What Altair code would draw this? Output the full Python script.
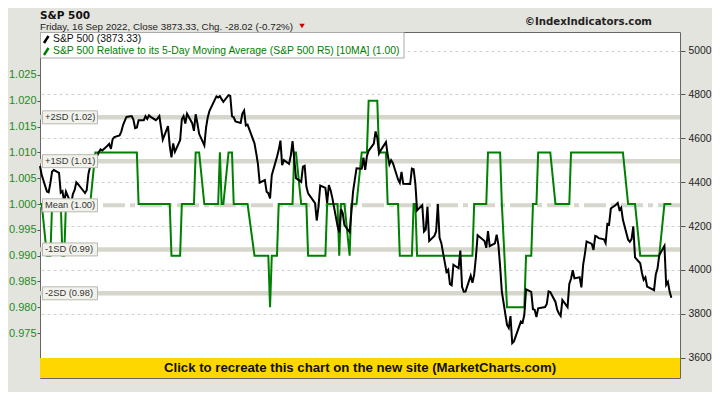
import altair as alt
import pandas as pd

# ---------------- data ----------------
DAYS = {
    "2021-09": [16, 17, 20, 21, 22, 23, 24, 27, 28, 29, 30],
    "2021-10": [1, 4, 5, 6, 7, 8, 11, 12, 13, 14, 15, 18, 19, 20, 21, 22, 25, 26, 27, 28, 29],
    "2021-11": [1, 2, 3, 4, 5, 8, 9, 10, 11, 12, 15, 16, 17, 18, 19, 22, 23, 24, 26, 29, 30],
    "2021-12": [1, 2, 3, 6, 7, 8, 9, 10, 13, 14, 15, 16, 17, 20, 21, 22, 23, 27, 28, 29, 30, 31],
    "2022-01": [3, 4, 5, 6, 7, 10, 11, 12, 13, 14, 18, 19, 20, 21, 24, 25, 26, 27, 28, 31],
    "2022-02": [1, 2, 3, 4, 7, 8, 9, 10, 11, 14, 15, 16, 17, 18, 22, 23, 24, 25, 28],
    "2022-03": [1, 2, 3, 4, 7, 8, 9, 10, 11, 14, 15, 16, 17, 18, 21, 22, 23, 24, 25, 28, 29, 30, 31],
    "2022-04": [1, 4, 5, 6, 7, 8, 11, 12, 13, 14, 18, 19, 20, 21, 22, 25, 26, 27, 28, 29],
    "2022-05": [2, 3, 4, 5, 6, 9, 10, 11, 12, 13, 16, 17, 18, 19, 20, 23, 24, 25, 26, 27, 31],
    "2022-06": [1, 2, 3, 6, 7, 8, 9, 10, 13, 14, 15, 16, 17, 21, 22, 23, 24, 27, 28, 29, 30],
    "2022-07": [1, 5, 6, 7, 8, 11, 12, 13, 14, 15, 18, 19, 20, 21, 22, 25, 26, 27, 28, 29],
    "2022-08": [1, 2, 3, 4, 5, 8, 9, 10, 11, 12, 15, 16, 17, 18, 19, 22, 23, 24, 25, 26, 29, 30, 31],
    "2022-09": [1, 2, 6, 7, 8, 9, 12, 13, 14, 15, 16],
}

CLOSE = {
    "2021-09": [4473.75, 4432.99, 4357.73, 4354.19, 4395.64, 4448.98, 4455.48, 4443.11, 4352.63, 4359.46, 4307.54],
    "2021-10": [4357.04, 4300.46, 4345.72, 4363.55, 4399.76, 4391.34, 4361.19, 4350.65, 4363.80, 4438.26, 4471.37,
                4486.46, 4519.63, 4536.19, 4549.78, 4544.90, 4566.48, 4574.79, 4551.68, 4596.42, 4605.38],
    "2021-11": [4613.67, 4630.65, 4660.57, 4680.06, 4697.53, 4701.70, 4685.25, 4646.71, 4649.27, 4682.85, 4682.80,
                4700.90, 4688.67, 4704.54, 4697.96, 4682.94, 4690.70, 4701.46, 4594.62, 4655.27, 4567.00],
    "2021-12": [4513.04, 4577.10, 4538.43, 4591.67, 4686.75, 4701.21, 4667.45, 4712.02, 4668.97, 4634.09, 4709.85,
                4668.67, 4620.64, 4568.02, 4649.23, 4696.56, 4725.79, 4791.19, 4786.35, 4793.06, 4778.73, 4766.18],
    "2022-01": [4796.56, 4793.54, 4700.58, 4696.05, 4677.03, 4670.29, 4713.07, 4726.35, 4659.03, 4662.85,
                4577.11, 4532.76, 4482.73, 4397.94, 4410.13, 4356.45, 4349.93, 4326.51, 4431.85, 4515.55],
    "2022-02": [4546.54, 4589.38, 4477.44, 4500.53, 4483.87, 4521.54, 4587.18, 4504.08, 4418.64, 4401.67,
                4471.07, 4475.01, 4380.26, 4348.87, 4304.76, 4225.50, 4288.70, 4384.65, 4373.94],
    "2022-03": [4306.26, 4386.54, 4363.49, 4328.87, 4201.09, 4170.70, 4277.88, 4259.52, 4204.31, 4173.11, 4262.45,
                4357.86, 4411.67, 4463.12, 4461.18, 4511.61, 4456.24, 4520.16, 4543.06, 4575.52, 4631.60, 4602.45,
                4530.41],
    "2022-04": [4545.86, 4582.64, 4525.12, 4481.15, 4500.21, 4488.28, 4412.53, 4397.45, 4446.59, 4392.59,
                4391.69, 4462.21, 4459.45, 4393.66, 4271.78, 4296.12, 4175.20, 4183.96, 4287.50, 4131.93],
    "2022-05": [4155.38, 4175.48, 4300.17, 4146.87, 4123.34, 3991.24, 4001.05, 3935.18, 3930.08, 4023.89, 4008.01,
                4088.85, 3923.68, 3900.79, 3901.36, 3973.75, 3941.48, 3978.73, 4057.84, 4158.24, 4132.15],
    "2022-06": [4101.23, 4176.82, 4108.54, 4121.43, 4160.68, 4115.77, 4017.82, 3900.86, 3749.63, 3735.48, 3789.99,
                3666.77, 3674.84, 3764.79, 3759.89, 3795.73, 3911.74, 3900.11, 3821.55, 3818.83, 3785.38],
    "2022-07": [3825.33, 3831.39, 3845.08, 3902.62, 3899.38, 3854.43, 3818.80, 3801.78, 3790.38, 3863.16,
                3830.85, 3936.69, 3959.90, 3998.95, 3961.63, 3966.84, 3921.05, 4023.61, 4072.43, 4130.29],
    "2022-08": [4118.63, 4091.19, 4155.17, 4151.94, 4145.19, 4140.06, 4122.47, 4210.24, 4207.27, 4280.15, 4297.14,
                4305.20, 4274.04, 4283.74, 4228.48, 4137.99, 4128.73, 4140.77, 4199.12, 4057.66, 4030.61, 3986.16,
                3955.00],
    "2022-09": [3966.85, 3924.26, 3908.19, 3979.87, 4006.18, 4067.36, 4110.41, 3932.69, 3946.01, 3901.35, 3873.33],
}

R5_10MA = {
    "2021-09": [1.00, 1.00, 0.99, 0.99, 0.99, 1.00, 1.00, 1.00, 1.00, 0.99, 0.99],
    "2021-10": [1.00, 1.00, 1.00, 1.00, 1.00, 1.00, 1.00, 1.00, 1.00, 1.00, 1.00,
                1.01, 1.01, 1.01, 1.01, 1.01, 1.01, 1.01, 1.01, 1.01, 1.01],
    "2021-11": [1.01, 1.01, 1.01, 1.01, 1.01, 1.01, 1.01, 1.01, 1.01,
                1.00, 1.00, 1.00, 1.00, 1.00, 1.00, 1.00, 1.00, 1.00, 1.00, 1.00, 1.00],
    "2021-12": [0.99, 0.99, 0.99, 0.99, 1.00, 1.00, 1.00, 1.00, 1.00, 1.00, 1.01, 1.01, 1.01,
                1.00, 1.00, 1.00, 1.00, 1.00, 1.00, 1.01, 1.00, 1.00],
    "2022-01": [1.01, 1.01, 1.01, 1.00, 1.00, 1.00, 1.00, 1.00, 1.00, 1.00,
                0.99, 0.99, 0.99, 0.99, 0.99, 0.99, 0.99, 0.98, 0.99, 0.99],
    "2022-02": [1.00, 1.00, 1.00, 1.00, 1.00, 1.00, 1.00, 1.01, 1.01, 1.00, 1.00, 1.00, 1.00,
                0.99, 0.99, 0.99, 0.99, 0.99, 0.99],
    "2022-03": [1.00, 1.00, 1.00, 1.00, 1.00, 0.99, 1.00, 1.00, 1.00, 0.99, 1.00, 1.00, 1.00, 1.00,
                1.01, 1.01, 1.01, 1.01, 1.02, 1.02, 1.02, 1.02, 1.01],
    "2022-04": [1.01, 1.01, 1.00, 1.00, 1.00, 1.00, 1.00, 0.99, 0.99, 0.99, 0.99, 0.99,
                1.00, 1.00, 0.99, 0.99, 0.99, 0.99, 0.99, 0.99],
    "2022-05": [0.99, 0.99, 0.99, 0.99, 0.99, 0.99, 0.99, 0.99, 0.99, 0.99, 0.99, 0.99, 0.99, 0.99, 0.99,
                0.99, 0.99, 1.00, 1.00, 1.00, 1.00],
    "2022-06": [1.00, 1.01, 1.01, 1.01, 1.01, 1.01, 1.01, 1.00, 0.98, 0.98, 0.98, 0.98, 0.98, 0.98, 0.98,
                0.98, 0.99, 0.99, 1.00, 1.00, 1.00],
    "2022-07": [1.01, 1.01, 1.01, 1.01, 1.01, 1.00, 1.00, 1.00, 1.00, 1.00, 1.00, 1.00,
                1.01, 1.01, 1.01, 1.01, 1.01, 1.01, 1.01, 1.01],
    "2022-08": [1.01, 1.01, 1.01, 1.01, 1.01, 1.01, 1.01, 1.01, 1.01, 1.01, 1.01, 1.01, 1.01, 1.01, 1.01,
                1.00, 1.00, 1.00, 1.00, 1.00, 0.99, 0.99, 0.99],
    "2022-09": [0.99, 0.99, 0.99, 0.99, 0.99, 0.99, 1.00, 1.00, 1.00, 1.00, 1.00],
}

BAND_NAMES = ["+2SD (1.02)", "+1SD (1.01)", "Mean (1.00)", "-1SD (0.99)", "-2SD (0.98)"]
BAND_VALUES = [1.0168, 1.0083, 0.99975, 0.9912, 0.9827]

LEFT_TICKS = [0.975, 0.980, 0.985, 0.990, 0.995, 1.000, 1.005, 1.010, 1.015, 1.020, 1.025]
RIGHT_TICKS = [3600, 3800, 4000, 4200, 4400, 4600, 4800, 5000]
MONTH_TICKS = [(2021, 10), (2021, 11), (2021, 12), (2022, 1), (2022, 2), (2022, 3),
               (2022, 4), (2022, 5), (2022, 6), (2022, 7), (2022, 8), (2022, 9)]

TITLE = "S&P 500"
SUBTITLE = "Friday, 16 Sep 2022, Close 3873.33, Chg. -28.02 (-0.72%)"
COPYRIGHT = "\u00a9IndexIndicators.com"
LEGEND_1 = "S&P 500 (3873.33)"
LEGEND_2 = "S&P 500 Relative to its 5-Day Moving Average (S&P 500 R5) [10MA] (1.00)"
BANNER = "Click to recreate this chart on the new site (MarketCharts.com)"

# ---------------- tables ----------------
rows = []
for ym in DAYS:
    for d, c, r in zip(DAYS[ym], CLOSE[ym], R5_10MA[ym]):
        rows.append({"date": f"{ym}-{d:02d}", "close": c, "r5": r})
df = pd.DataFrame(rows)

bands = pd.DataFrame({"name": BAND_NAMES, "v": BAND_VALUES})
sd_bands = bands[bands["name"] != "Mean (1.00)"]
mean_band = bands[bands["name"] == "Mean (1.00)"]
one = pd.DataFrame({"k": [0]})

W, H = 640, 346
GREEN = "#008000"
FONT = "Liberation Sans"
BOLD_FONT = "DejaVu Sans"

xscale = alt.Scale(type="utc", domain=[alt.DateTime(year=2021, month=9, date=16, utc=True),
                                       alt.DateTime(year=2022, month=9, date=21, utc=True)])
lscale = alt.Scale(domain=[0.96629, 1.03333], zero=False, nice=False)
rscale = alt.Scale(domain=[3507.8, 5084.6], zero=False, nice=False)

jan = "utcmonth(datum.value) == 0"
xaxis = alt.Axis(
    values=[alt.DateTime(year=y, month=m, date=1, utc=True) for y, m in MONTH_TICKS],
    labelExpr=("utcmonth(datum.value) == 0 ? utcFormat(datum.value, '%y') : "
               "(utcyear(datum.value) == 2021 && utcmonth(datum.value) == 9 ? "
               "utcFormat(datum.value, '%b %Y') : utcFormat(datum.value, '%b'))"),
    labelFontWeight={"condition": {"test": jan, "value": "bold"}, "value": "normal"},
    grid=True,
    gridDash={"condition": {"test": jan, "value": [1, 0]}, "value": [3, 3]},
    gridColor={"condition": {"test": jan, "value": "#a8a8a8"}, "value": "#d0d0d0"},
    domain=False, tickSize=4, tickColor="#555555", labelFontSize=10.2, labelColor="#222222",
    labelPadding=2, title=None,
)

band_rules = alt.Chart(sd_bands).mark_rule(color="#d6d6cc", strokeWidth=4.5).encode(
    y=alt.Y("v:Q", scale=lscale, axis=None))
mean_rule = alt.Chart(mean_band).mark_rule(color="#d6d6cc", strokeWidth=4, strokeDash=[22, 5, 5, 5]).encode(
    y=alt.Y("v:Q", scale=lscale, axis=None))

banner = alt.Chart(one).mark_rect(color="#ffd700").encode(
    x=alt.value(0), x2=alt.value(W), y=alt.value(H - 20), y2=alt.value(H))
banner_text = alt.Chart(one).mark_text(text=BANNER, font=FONT, fontWeight="bold", fontSize=13.2,
                                       color="#111111", baseline="middle", align="center").encode(
    x=alt.value(W / 2), y=alt.value(H - 10))

legend_box = alt.Chart(one).mark_rect(fill="white", stroke="#aaaaaa", strokeWidth=1).encode(
    x=alt.value(0.5), x2=alt.value(364), y=alt.value(0.5), y2=alt.value(26))
icon1 = alt.Chart(one).mark_rule(color="black", strokeWidth=2.5).encode(
    x=alt.value(4), x2=alt.value(8.5), y=alt.value(11), y2=alt.value(4))
icon2 = alt.Chart(one).mark_rule(color=GREEN, strokeWidth=2.5).encode(
    x=alt.value(4), x2=alt.value(8.5), y=alt.value(23), y2=alt.value(16))
leg1 = alt.Chart(one).mark_text(text=LEGEND_1, font=FONT, fontSize=10.4, color="#111111",
                                align="left", baseline="middle").encode(x=alt.value(13), y=alt.value(7))
leg2 = alt.Chart(one).mark_text(text=LEGEND_2, font=FONT, fontSize=10.4, color=GREEN,
                                align="left", baseline="middle").encode(x=alt.value(13), y=alt.value(19))

green_line = alt.Chart(df).mark_line(color=GREEN, strokeWidth=2).encode(
    x=alt.X("date:T", scale=xscale, axis=xaxis),
    y=alt.Y("r5:Q", scale=lscale,
            axis=alt.Axis(orient="left", values=LEFT_TICKS, format=".3f", labelColor="#228b22",
                          labelFontSize=11, tickSize=3, tickColor="#555555", domain=False, grid=False,
                          labelPadding=1, title=None)),
)
black_line = alt.Chart(df).mark_line(color="black", strokeWidth=2).encode(
    x=alt.X("date:T", scale=xscale, axis=None),
    y=alt.Y("close:Q", scale=rscale,
            axis=alt.Axis(orient="right", values=RIGHT_TICKS, format="d", labelColor="#222222",
                          labelFontSize=10.3, tickSize=5, tickColor="#555555", domain=False, grid=True,
                          gridDash=[3, 3], gridColor="#d0d0d0", labelPadding=3, title=None)),
)

label_boxes = alt.Chart(bands).mark_rect(fill="#f2f2ec", stroke="#b8b8b0", strokeWidth=1,
                                         yOffset=-6.5, y2Offset=6.5).encode(
    x=alt.value(2.5), x2=alt.value(57.5),
    y=alt.Y("v:Q", scale=lscale, axis=None), y2="v:Q")
label_texts = alt.Chart(bands).mark_text(font=FONT, fontSize=9.3, color="#333333", align="left",
                                         baseline="middle").encode(
    x=alt.value(5), y=alt.Y("v:Q", scale=lscale, axis=None), text="name:N")

title = alt.Chart(one).mark_text(text=TITLE, font=BOLD_FONT, fontWeight="bold", fontSize=10.5,
                                 color="#111111", align="left", baseline="alphabetic").encode(
    x=alt.value(0), y=alt.value(-13.5))
subtitle = alt.Chart(one).mark_text(text=SUBTITLE, font=FONT, fontSize=9.8, color="#222222",
                                    align="left", baseline="alphabetic").encode(
    x=alt.value(0), y=alt.value(-2.5))
triangle = alt.Chart(one).mark_point(shape="triangle-down", filled=True, color="#cc0000", size=30,
                                     opacity=1).encode(x=alt.value(262), y=alt.value(-6))
copyright_text = alt.Chart(one).mark_text(text=COPYRIGHT, font=BOLD_FONT, fontWeight="bold", fontSize=10.2,
                                          color="#222222", align="right", baseline="alphabetic").encode(
    x=alt.value(612), y=alt.value(-7))

chart = alt.layer(
    band_rules, mean_rule, banner, banner_text, legend_box, icon1, icon2, leg1, leg2,
    green_line, black_line, label_boxes, label_texts, title, subtitle, triangle, copyright_text,
).resolve_scale(y="independent").properties(
    width=W, height=H,
    autosize=alt.AutoSizeParams(type="none"),
    padding={"left": 32, "top": 24, "right": 32, "bottom": 14},
).configure(background="#e4e4de", font=FONT).configure_view(stroke="#666666", fill="white")

chart.save("out.html", embed_options={"renderer": "svg", "actions": False})
